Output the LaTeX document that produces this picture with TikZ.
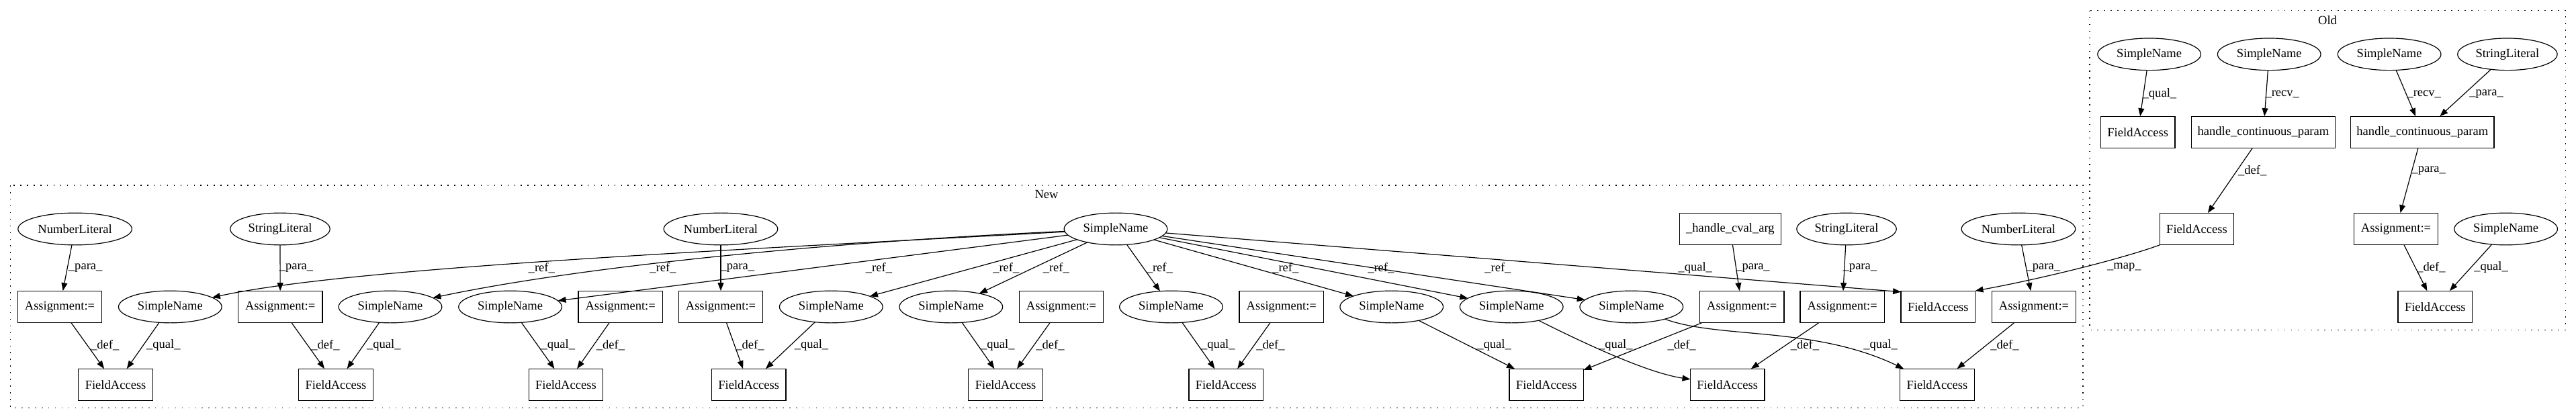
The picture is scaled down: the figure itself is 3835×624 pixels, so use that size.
\documentclass[tikz,border=0pt]{standalone}
\usepackage{fontspec}
\setmainfont{Liberation Serif}
\usetikzlibrary{arrows.meta,shapes.geometric}
\begin{document}
\begin{tikzpicture}[x=0.7547pt,y=-0.7547pt,
  every node/.style={font=\fontsize{14}{16}\selectfont, inner sep=0pt, outer sep=0pt},
  ell/.style={draw, ellipse, line width=0.9pt, minimum height=36pt},
  box/.style={draw, rectangle, line width=0.9pt, minimum height=36pt},
  sn/.style={ell, minimum width=116pt},
  nl/.style={ell, minimum width=128pt},
  sl/.style={ell, minimum width=112pt},
  asg/.style={box, minimum width=94.7pt},
  fa/.style={box, minimum width=83.4pt},
  hcp/.style={box, minimum width=161pt},
  cvalbox/.style={box, minimum width=114pt},
  lbl/.style={font=\fontsize{14}{16}\selectfont},
  conn/.style={-{Triangle[length=9pt,width=6.7pt]}, line width=0.9pt},
  cluster/.style={draw, line width=0.9pt, dash pattern=on 1.2pt off 6.3pt}
]
\useasboundingbox (0,0) rectangle (3835,624);

% clusters
\draw[cluster] (15.6,276) rectangle (3101,607.3);
\node (newlbl) at (1558,290) {New};
\draw[cluster] (3111,15.9) rectangle (3819.6,491.4);
\node (oldlbl) at (3465,29.8) {Old};

% ---------- New: top row ----------
\node[nl] (NLa) at (111.6,341) {NumberLiteral};
\node[sl] (SLa) at (417,341) {StringLiteral};
\node[nl] (NLb) at (1073,341) {NumberLiteral};
\node[sn] (hub) at (1661,341) {SimpleName};
\node[cvalbox] (cval) at (2575.9,341) {\_handle\_cval\_arg};
\node[sl] (SLb) at (2749,341) {StringLiteral};
\node[nl] (NLc) at (3004.9,341) {NumberLiteral};

% ---------- New: middle row ----------
\node[asg] (A1) at (89,457) {Assignment:=};
\node[sn] (SN1) at (253.3,457) {SimpleName};
\node[asg] (A2) at (417.2,457) {Assignment:=};
\node[sn] (SN2) at (581,457) {SimpleName};
\node[sn] (SN3) at (759.6,457) {SimpleName};
\node[asg] (A3) at (923.7,457) {Assignment:=};
\node[asg] (A4) at (1073,457) {Assignment:=};
\node[sn] (SN4) at (1237.3,457) {SimpleName};
\node[sn] (SN5) at (1415.8,457) {SimpleName};
\node[asg] (A5) at (1580,457) {Assignment:=};
\node[sn] (SN6) at (1743.5,457) {SimpleName};
\node[asg] (A6) at (1907.8,457) {Assignment:=};
\node[sn] (SN7) at (2071.7,457) {SimpleName};
\node[sn] (SN8) at (2250.2,457) {SimpleName};
\node[sn] (SN9) at (2428.8,457) {SimpleName};
\node[asg] (A7) at (2593.2,457) {Assignment:=};
\node[asg] (A8) at (2742.7,457) {Assignment:=};
\node[fa] (FAm) at (2885.3,457) {FieldAccess};
\node[asg] (A9) at (3028,457) {Assignment:=};

% ---------- New: bottom row ----------
\node[fa] (F1) at (172.1,573) {FieldAccess};
\node[fa] (F2) at (500,573) {FieldAccess};
\node[fa] (F3) at (842.4,573) {FieldAccess};
\node[fa] (F4) at (1114.7,573) {FieldAccess};
\node[fa] (F5) at (1497.1,573) {FieldAccess};
\node[fa] (F6) at (1825.2,573) {FieldAccess};
\node[fa] (F7) at (2302.3,573) {FieldAccess};
\node[fa] (F8) at (2571.7,573) {FieldAccess};
\node[fa] (F9) at (2883.9,573) {FieldAccess};

% ---------- Old ----------
\node[sn] (oS1) at (3199.6,80.8) {SimpleName};
\node[sn] (oS2) at (3378.2,80.8) {SimpleName};
\node[sn] (oS3) at (3557.1,80.8) {SimpleName};
\node[sl] (oSL) at (3732.9,80.8) {StringLiteral};
\node[fa] (oF1) at (3182.7,197) {FieldAccess};
\node[hcp] (hcp1) at (3369.4,197) {handle\_continuous\_param};
\node[hcp] (hcp2) at (3606.3,197) {handle\_continuous\_param};
\node[fa] (oF2) at (3270.5,341) {FieldAccess};
\node[asg] (oA) at (3567,341) {Assignment:=};
\node[sn] (oS4) at (3730.6,341) {SimpleName};
\node[fa] (oF3) at (3625.3,457) {FieldAccess};

% ---------- edges: top -> middle ----------
\draw[conn] (NLa) -- (A1);
\draw[conn] (SLa) -- (A2);
\draw[conn] (NLb) -- (A4);
\draw[conn] (cval) -- (A7);
\draw[conn] (SLb) -- (A8);
\draw[conn] (NLc) -- (A9);

\draw[conn] (hub) .. controls (1100,372) and (520,398) .. (SN1);
\draw[conn] (hub) .. controls (1200,362) and (850,400) .. (SN2);
\draw[conn] (hub) -- (SN3);
\draw[conn] (hub) -- (SN4);
\draw[conn] (hub) -- (SN5);
\draw[conn] (hub) -- (SN6);
\draw[conn] (hub) -- (SN7);
\draw[conn] (hub) -- (SN8);
\draw[conn] (hub) -- (SN9);
\draw[conn] (hub) -- (FAm.158);

\node[lbl] (l1) at (127.2,399.3) {\_para\_};
\node[lbl] (l2) at (441,399.3) {\_para\_};
\node[lbl] (l3) at (806.3,399.3) {\_ref\_};
\node[lbl] (l4) at (987,399.3) {\_ref\_};
\node[lbl] (l5) at (1097.8,399.3) {\_para\_};
\node[lbl] (l6) at (1308.5,399.3) {\_ref\_};
\node[lbl] (l7) at (1497.8,399.3) {\_ref\_};
\node[lbl] (l8) at (1572.3,399.3) {\_ref\_};
\node[lbl] (l9) at (1726.3,399.3) {\_ref\_};
\node[lbl] (l10) at (1913.8,399.3) {\_ref\_};
\node[lbl] (l11) at (2055.8,399.3) {\_ref\_};
\node[lbl] (l12) at (2229.9,399.3) {\_ref\_};
\node[lbl] (l13) at (2523.7,399.3) {\_qual\_};
\node[lbl] (l14) at (2609.5,399.3) {\_para\_};
\node[lbl] (l15) at (2768.9,399.3) {\_para\_};
\node[lbl] (l16) at (3041.8,399.3) {\_para\_};

% ---------- edges: middle -> bottom ----------
\draw[conn] (A1) -- (F1);
\draw[conn] (SN1) -- (F1);
\draw[conn] (A2) -- (F2);
\draw[conn] (SN2) -- (F2);
\draw[conn] (SN3) -- (F3);
\draw[conn] (A3) -- (F3);
\draw[conn] (A4) -- (F4);
\draw[conn] (SN4) -- (F4);
\draw[conn] (SN5) -- (F5);
\draw[conn] (A5) -- (F5);
\draw[conn] (SN6) -- (F6);
\draw[conn] (A6) -- (F6);
\draw[conn] (SN7) -- (F7);
\draw[conn] (SN8) .. controls (2350,507) and (2450,555) .. (F8);
\draw[conn] (A7) -- (F7);
\draw[conn] (A8) -- (F8);
\draw[conn] (SN9) .. controls (2560,505) and (2700,485) .. (F9);
\draw[conn] (A9) -- (F9);

\node[lbl] (m1) at (156.3,514.3) {\_def\_};
\node[lbl] (m2) at (243.3,514.3) {\_qual\_};
\node[lbl] (m3) at (484.4,514.3) {\_def\_};
\node[lbl] (m4) at (571.4,514.3) {\_qual\_};
\node[lbl] (m5) at (830.8,514.3) {\_qual\_};
\node[lbl] (m6) at (908.9,514.3) {\_def\_};
\node[lbl] (m7) at (1116.5,514.3) {\_def\_};
\node[lbl] (m8) at (1208,514.3) {\_qual\_};
\node[lbl] (m9) at (1485.3,514.3) {\_qual\_};
\node[lbl] (m10) at (1563.4,514.3) {\_def\_};
\node[lbl] (m11) at (1813.4,514.3) {\_qual\_};
\node[lbl] (m12) at (1891.5,514.3) {\_def\_};
\node[lbl] (m13) at (2224.6,514.3) {\_qual\_};
\node[lbl] (m14) at (2405.4,514.3) {\_qual\_};
\node[lbl] (m15) at (2503.6,514.3) {\_def\_};
\node[lbl] (m16) at (2687,514.3) {\_def\_};
\node[lbl] (m17) at (2799.5,514.3) {\_qual\_};
\node[lbl] (m18) at (2984.4,514.3) {\_def\_};

% ---------- Old edges ----------
\draw[conn] (oS1) -- (oF1);
\draw[conn] (oS2) -- (hcp1);
\draw[conn] (oS3) -- (hcp2);
\draw[conn] (oSL) -- (hcp2);
\draw[conn] (hcp1) -- (oF2);
\draw[conn] (hcp2) -- (oA);
\draw[conn] (oA) -- (oF3);
\draw[conn] (oS4) -- (oF3);
\draw[conn] (oF2.south west) .. controls (3160,385) and (3040,415) .. (FAm.north east);

\node[lbl] (o1) at (3214.9,140) {\_qual\_};
\node[lbl] (o2) at (3397.7,140) {\_recv\_};
\node[lbl] (o3) at (3608.7,140) {\_recv\_};
\node[lbl] (o4) at (3701.5,140) {\_para\_};
\node[lbl] (o5) at (3353.2,253.9) {\_def\_};
\node[lbl] (o6) at (3615.7,253.9) {\_para\_};
\node[lbl] (o7) at (3619.5,398) {\_def\_};
\node[lbl] (o8) at (3708.5,398) {\_qual\_};
\node[lbl] (o9) at (3162.4,398) {\_map\_};
\end{tikzpicture}
\end{document}
